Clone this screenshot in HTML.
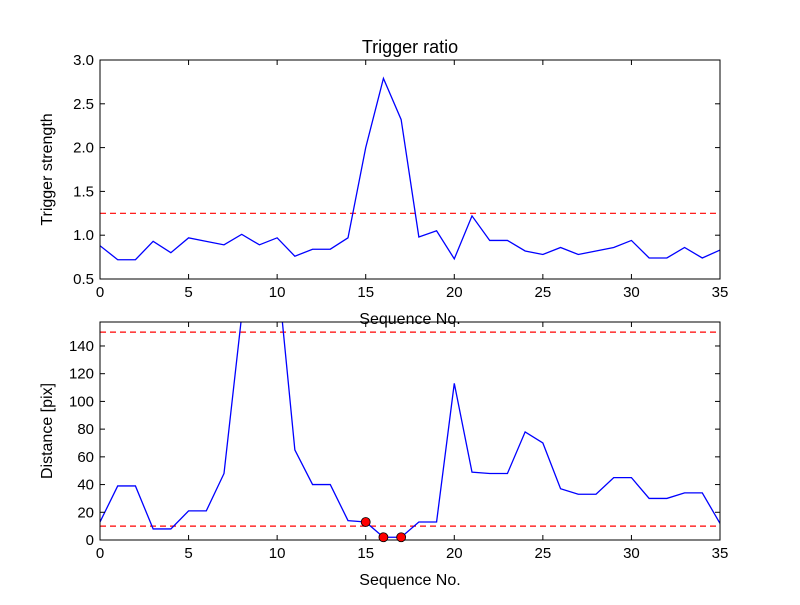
<!DOCTYPE html>
<html><head><meta charset="utf-8"><style>body{margin:0;background:#fff}svg text{font-family:"Liberation Sans","DejaVu Sans",sans-serif}</style></head>
<body>
<svg id="c" width="800" height="600"></svg>
<script>
const seq=[...Array(36).keys()];
const ratio=[0.88,0.72,0.72,0.93,0.80,0.97,0.93,0.89,1.01,0.89,0.97,0.76,0.84,0.84,0.97,2.0,2.79,2.32,0.98,1.05,0.73,1.22,0.94,0.94,0.82,0.78,0.86,0.78,0.82,0.86,0.94,0.74,0.74,0.86,0.74,0.83];
const dist=[13,39,39,8,8,21,21,48,162,250,196,65,40,40,14,13,2,2,13,13,113,49,48,48,78,70,37,33,33,45,45,30,30,34,34,12];
const marked=[15,16,17];
const ratioThresh=1.25;
const distThresh=[10,150];
const xTicks=[0,5,10,15,20,25,30,35];
const yTicksTop=[0.5,1.0,1.5,2.0,2.5,3.0];
const yTicksBot=[0,20,40,60,80,100,120,140];
const NS="http://www.w3.org/2000/svg";
const svg=document.getElementById('c');
function mk(t,a,p){const e=document.createElementNS(NS,t);for(const k in a)e.setAttribute(k,a[k]);(p||svg).appendChild(e);return e;}
function panel(id,top,bot,ymin,ymax,yt,fmt,data,ylab,thr,title){
 const L=100,R=720;
 const x=v=>L+(v-0)/35*(R-L), y=v=>bot-(v-ymin)/(ymax-ymin)*(bot-top);
 const g=mk('g',{});
 
 
 const cp=mk('clipPath',{id:'cp'+id},g);mk('rect',{x:L,y:top,width:R-L,height:bot-top},cp);
 thr.forEach(t=>{const l=mk('line',{x1:L,x2:R,y1:y(t),y2:y(t),stroke:'#f00','stroke-width':1.2,'stroke-dasharray':'6,4'},g);
  });
 const p=mk('polyline',{points:data.map((v,i)=>x(seq[i])+','+y(v)).join(' '),fill:'none',stroke:'#00f','stroke-width':1.3,'clip-path':'url(#cp'+id+')'},g);
 
 const fr=mk('rect',{x:L,y:top,width:R-L,height:bot-top,fill:'none',stroke:'#000','stroke-width':1},g);
 
 xTicks.forEach(t=>{mk('line',{x1:x(t),x2:x(t),y1:bot,y2:bot-5,stroke:'#000'},g);mk('line',{x1:x(t),x2:x(t),y1:top,y2:top+5,stroke:'#000'},g);
  const tx=mk('text',{x:x(t),y:bot+18,'text-anchor':'middle','font-size':15},g);tx.textContent=t;
  });
 yt.forEach(t=>{mk('line',{x1:L,x2:L+5,y1:y(t),y2:y(t),stroke:'#000'},g);mk('line',{x1:R,x2:R-5,y1:y(t),y2:y(t),stroke:'#000'},g);
  const tx=mk('text',{x:L-6,y:y(t)+5,'text-anchor':'end','font-size':15},g);tx.textContent=fmt(t);
  });
 const xl=mk('text',{x:410,y:bot+45,'text-anchor':'middle','font-size':16},g);xl.textContent='Sequence No.';
 
 const yl=mk('text',{x:0,y:0,'text-anchor':'middle','font-size':16,transform:`translate(${L-48},${(top+bot)/2}) rotate(-90)`},g);yl.textContent=ylab;
 
 if(title){const tt=mk('text',{x:410,y:top-7,'text-anchor':'middle','font-size':18},g);tt.textContent=title;
  }
 return {x,y,g};
}
panel('top',60,279,0.5,3.0,yTicksTop,t=>t.toFixed(1),ratio,'Trigger strength',[ratioThresh],'Trigger ratio');
const b=panel('bottom',322,540,0,157.3,yTicksBot,t=>t,dist,'Distance [pix]',distThresh,null);
marked.forEach(i=>{const c=mk('circle',{cx:b.x(seq[i]),cy:b.y(dist[i]),r:4.5,fill:'#f00',stroke:'#000','stroke-width':0.8},b.g);
 });
</script>
</body></html>
